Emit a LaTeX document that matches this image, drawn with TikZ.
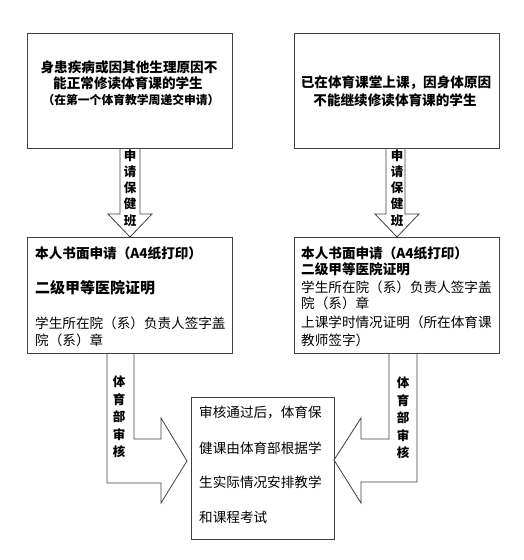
\documentclass[tikz,border=0pt]{standalone}
\usepackage{fontspec}
\newfontfamily\cjk{Noto Sans CJK SC}
\begin{document}
\begin{tikzpicture}[x=1pt,y=-1pt,
  box/.style={draw=black!75,line width=0.8pt,inner sep=0pt,anchor=north west},
  shp/.style={draw=black!75,line width=0.8pt,line join=miter},
  tx/.style={inner sep=0pt,font=\cjk\fontsize{13.6pt}{16pt}\selectfont},
  txb/.style={tx,font=\cjk\bfseries\fontsize{13.6pt}{16pt}\selectfont},
  vt/.style={inner sep=0pt,align=center,font=\cjk\bfseries\fontsize{12.5pt}{16.2pt}\selectfont},
  vt2/.style={inner sep=0pt,align=center,font=\cjk\bfseries\fontsize{12.5pt}{17.6pt}\selectfont}]
\useasboundingbox (0,0) rectangle (524,560);
% boxes
\node[box,minimum width=205pt,minimum height=115pt] (tl) at (27,33) {};
\node[box,minimum width=205pt,minimum height=115pt] (tr) at (294,33) {};
\node[box,minimum width=205pt,minimum height=116pt] (ml) at (27,237) {};
\node[box,minimum width=205pt,minimum height=116pt] (mr) at (294,237) {};
\node[box,minimum width=143pt,minimum height=142pt] (cb) at (191,397) {};
% top-left text
\node[txb] (tl1) at (129,67) {身患疾病或因其他生理原因不};
\node[txb] (tl2) at (128,83) {能正常修读体育课的学生};
\node[txb,font=\cjk\bfseries\fontsize{11.8pt}{14pt}\selectfont] (tl3) at (131,100) {（在第一个体育教学周递交申请）};
% top-right text
\node[txb] (tr1) at (396,83) {已在体育课堂上课，因身体原因};
\node[txb] (tr2) at (395,100) {不能继续修读体育课的学生};
% down arrows
\draw[shp] (120,148) -- (120,214) -- (108,214) -- (130,237) -- (152,214) -- (140,214) -- (140,148);
\draw[shp] (386,148) -- (386,214) -- (375,214) -- (397,237) -- (419,214) -- (405,214) -- (405,148);
\node[vt] (va) at (130,188) {申\\请\\保\\健\\班};
\node[vt] (vb) at (397,188) {申\\请\\保\\健\\班};
% middle-left text
\node[txb,anchor=west] (ml1) at (35,253) {本人书面申请（A4纸打印）};
\node[txb,anchor=west,font=\cjk\bfseries\fontsize{15pt}{17pt}\selectfont] (ml2) at (35,288) {二级甲等医院证明};
\node[tx,anchor=west] (ml3) at (35,323) {学生所在院（系）负责人签字盖};
\node[tx,anchor=west] (ml4) at (35,340) {院（系）章};
% middle-right text
\node[txb,anchor=west] (mr1) at (301,253) {本人书面申请（A4纸打印）};
\node[txb,anchor=west] (mr2) at (301,269) {二级甲等医院证明};
\node[tx,anchor=west] (mr3) at (301,287) {学生所在院（系）负责人签字盖};
\node[tx,anchor=west] (mr4) at (301,303) {院（系）章};
\node[tx,anchor=west] (mr5) at (301,322) {上课学时情况证明（所在体育课};
\node[tx,anchor=west] (mr6) at (301,340) {教师签字）};
% bent arrows
\draw[shp] (107,353) -- (107,483) -- (161,483) -- (161,503) -- (187,461) -- (161,418) -- (161,439) -- (134,439) -- (134,353);
\draw[shp] (389,353) -- (389,439) -- (361,439) -- (361,418) -- (334,460) -- (361,503) -- (361,482) -- (417,482) -- (417,353);
\node[vt2] (vc) at (119,417) {体\\育\\部\\审\\核};
\node[vt2] (vd) at (403,418) {体\\育\\部\\审\\核};
% center text
\node[tx,anchor=west] (c1) at (199,412) {审核通过后，体育保};
\node[tx,anchor=west] (c2) at (199,448) {健课由体育部根据学};
\node[tx,anchor=west] (c3) at (199,482) {生实际情况安排教学};
\node[tx,anchor=west] (c4) at (199,517) {和课程考试};
\end{tikzpicture}
\end{document}
